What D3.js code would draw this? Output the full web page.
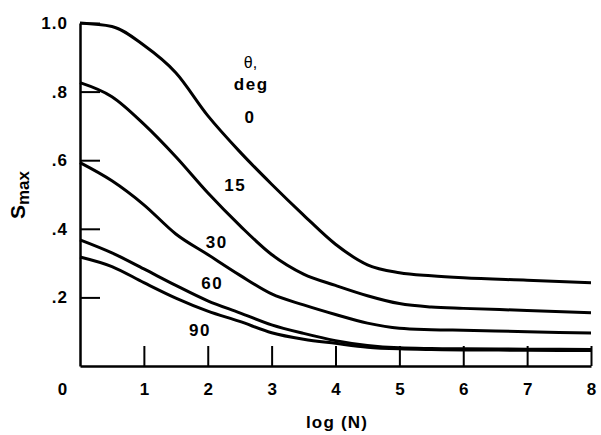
<!DOCTYPE html>
<html>
<head>
<meta charset="utf-8">
<script src="https://cdn.jsdelivr.net/npm/d3@7"></script>
<style>
  body { margin: 0; background: #fff; }
  text { font-family: "Liberation Sans", Arial, sans-serif; font-weight: bold; fill: #000; }
</style>
</head>
<body>
<div id="chart" style="width:601px;height:435px"></div>
<script>
// log(N) positions where curve values were read
const logN = [0, 0.5, 1, 1.5, 2, 2.5, 3, 3.5, 4, 4.5, 5, 5.5, 6, 7, 8];

// Smax for each theta (deg)
const s0  = [1.0, 0.99, 0.935, 0.855, 0.73, 0.625, 0.53, 0.44, 0.355, 0.295, 0.272, 0.263, 0.257, 0.25, 0.243];
const s15 = [0.826, 0.785, 0.705, 0.61, 0.505, 0.41, 0.325, 0.268, 0.235, 0.205, 0.182, 0.172, 0.168, 0.162, 0.155];
const s30 = [0.593, 0.54, 0.47, 0.385, 0.325, 0.265, 0.21, 0.178, 0.15, 0.125, 0.11, 0.106, 0.104, 0.1, 0.096];
const s60 = [0.368, 0.33, 0.283, 0.235, 0.19, 0.155, 0.12, 0.095, 0.074, 0.06, 0.053, 0.051, 0.05, 0.049, 0.048];
const s90 = [0.318, 0.29, 0.243, 0.198, 0.16, 0.13, 0.097, 0.078, 0.066, 0.055, 0.05, 0.048, 0.047, 0.046, 0.045];

const series = [
    { name: "0", values: s0 },
    { name: "15", values: s15 },
    { name: "30", values: s30 },
    { name: "60", values: s60 },
    { name: "90", values: s90 }
];

// curve labels: [label, logN, Smax] (baseline position)
const curveLabels = [
    ["0", 2.66, 0.707],
    ["15", 2.43, 0.511],
    ["30", 2.14, 0.345],
    ["60", 2.07, 0.225],
    ["90", 1.88, 0.088]
];

const xTicks = [0, 1, 2, 3, 4, 5, 6, 7, 8];
const yTicks = [0.2, 0.4, 0.6, 0.8, 1.0];

const w = 601, h = 435;
const margin = { top: 23, right: 10, bottom: 69, left: 80 };

const svg = d3.select("#chart").append("svg")
    .attr("width", w)
    .attr("height", h);

// SCALES
const x = d3.scaleLinear().domain([0, 8]).range([margin.left, w - margin.right]);
const y = d3.scaleLinear().domain([0, 1]).range([h - margin.bottom, margin.top]);

// AXES
const xAxis = svg.append("g")
    .attr("transform", "translate(0," + y(0) + ")")
    .call(d3.axisBottom(x).tickValues(xTicks)
        .tickFormat(d3.format("d"))
        .tickSizeInner(-20).tickSizeOuter(0).tickPadding(17));

xAxis.selectAll(".tick text")
    .style("font-size", "17px")
    .attr("dx", (d) => d === 0 ? -18 : 0);
xAxis.selectAll(".tick line").filter((d) => d === 0).remove();

const yAxis = svg.append("g")
    .attr("transform", "translate(" + x(0) + ",0)")
    .call(d3.axisLeft(y).tickValues(yTicks)
        .tickFormat((d) => d === 1 ? "1.0" : d3.format(".1f")(d).replace(/^0/, ""))
        .tickSizeInner(-20).tickSizeOuter(0).tickPadding(12));

yAxis.selectAll(".tick text")
    .style("font-size", "17px")
    .style("letter-spacing", "1px");

svg.selectAll(".domain, .tick line")
    .attr("stroke", "#000")
    .attr("stroke-width", 2.5);
svg.selectAll(".tick line").attr("stroke-width", 2);

// AXES LABELS
svg.append("text")
    .attr("x", 337)
    .attr("y", 428)
    .style("text-anchor", "middle")
    .style("font-size", "17px")
    .style("letter-spacing", "1.2px")
    .text("log (N)");

const yl = svg.append("text")
    .attr("transform", "translate(25,195) rotate(-90)")
    .style("text-anchor", "middle");
yl.append("tspan").style("font-size", "21px").text("S");
yl.append("tspan").style("font-size", "17px").attr("dy", 4).text("max");

// LINES
const line = d3.line()
    .x((d, i) => x(logN[i]))
    .y((d) => y(d))
    .curve(d3.curveMonotoneX);

svg.selectAll(".line").data(series).enter()
    .append("path")
    .attr("class", "line")
    .attr("d", (d) => line(d.values))
    .attr("fill", "none")
    .attr("stroke", "#000")
    .attr("stroke-width", 3);

// CURVE LABELS
svg.append("text")
    .attr("x", x(2.67)).attr("y", y(0.87))
    .style("text-anchor", "middle").style("font-size", "16px").style("font-weight", "normal")
    .text("θ,");
svg.append("text")
    .attr("x", x(2.68)).attr("y", y(0.805))
    .style("text-anchor", "middle").style("font-size", "17px")
    .style("letter-spacing", "1.5px")
    .text("deg");

svg.selectAll(".clabel").data(curveLabels).enter()
    .append("text")
    .attr("class", "clabel")
    .attr("x", (d) => x(d[1]))
    .attr("y", (d) => y(d[2]))
    .style("text-anchor", "middle")
    .style("font-size", "17px")
    .style("letter-spacing", "1.5px")
    .text((d) => d[0]);
</script>
</body>
</html>
